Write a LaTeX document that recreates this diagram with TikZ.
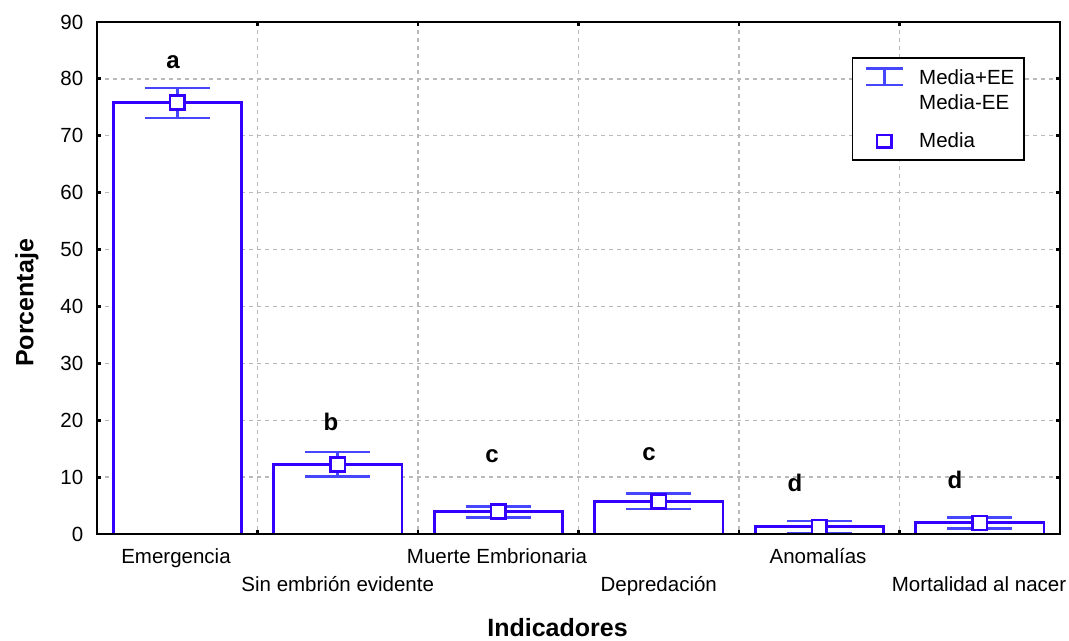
\documentclass[tikz,border=0pt]{standalone}
\usepackage{fontspec}
\setmainfont{Liberation Sans}
\definecolor{barblue}{RGB}{51,0,255}
\definecolor{whiskblue}{RGB}{70,70,255}
\definecolor{gridgray}{RGB}{185,185,185}
\begin{document}
\begin{tikzpicture}[x=1bp,y=-1bp,
  gridline/.style={draw=gridgray, line width=1.4bp, dash pattern=on 4bp off 4bp},
  barbox/.style={draw=barblue, fill=white, line width=2.9bp},
  whisk/.style={draw=whiskblue, line width=2.6bp},
  meanbox/.style={draw=barblue, fill=white, line width=2.7bp},
  axisline/.style={draw=black, line width=2.8bp},
  ticklab/.style={inner sep=0pt, font=\fontsize{20.5bp}{24bp}\selectfont},
  catlab/.style={inner sep=0pt, anchor=base, font=\fontsize{20.5bp}{24bp}\selectfont},
  sigletter/.style={inner sep=0pt, anchor=base, font=\fontsize{24bp}{28bp}\selectfont\bfseries},
  axtitle/.style={inner sep=0pt, anchor=base, font=\fontsize{25bp}{29bp}\selectfont\bfseries},
  legtext/.style={inner sep=0pt, anchor=west, font=\fontsize{20.5bp}{24bp}\selectfont}]
\useasboundingbox (0,0) rectangle (1069,641);
\fill[white] (0,0) rectangle (1069,641);
% grid
\foreach \v in {10,20,...,80}
  \draw[gridline] (97,{534-5.6889*\v}) -- (1060,{534-5.6889*\v});
\foreach \i in {1,...,5}
  \draw[gridline] ({97+160.5*\i},22) -- ({97+160.5*\i},534);
% bars and error bars
\foreach \i/\m/\u/\l in {0/75.8/78.4/73.1, 1/12.2/14.4/10.1, 2/4.0/4.85/2.95, 3/5.7/7.1/4.4, 4/1.25/2.3/0.2, 5/1.95/2.9/1.0}{
  \pgfmathsetmacro\cx{97+160.5*(\i+0.5)}
  \draw[barbox] ({\cx-64.2},534) -- ({\cx-64.2},{534-5.6889*\m}) -- ({\cx+64.2},{534-5.6889*\m}) -- ({\cx+64.2},534);
  \draw[whisk] ({\cx-32.5},{534-5.6889*\u}) -- ({\cx+32.5},{534-5.6889*\u});
  \draw[whisk] ({\cx-32.5},{534-5.6889*\l}) -- ({\cx+32.5},{534-5.6889*\l});
  \draw[whisk] (\cx,{534-5.6889*\u}) -- (\cx,{534-5.6889*\l});
  \draw[meanbox] ({\cx-7.2},{534-5.6889*\m-7}) rectangle ({\cx+7.2},{534-5.6889*\m+7});
}
% axes frame
\draw[axisline] (97,22) rectangle (1060,534);
\foreach \v in {10,20,...,80}{
  \draw[axisline] (97,{534-5.6889*\v}) -- (101,{534-5.6889*\v});
  \draw[axisline] (1060,{534-5.6889*\v}) -- (1056,{534-5.6889*\v});
}
\foreach \i in {1,...,5}{
  \draw[axisline] ({97+160.5*\i},534) -- ({97+160.5*\i},530);
  \draw[axisline] ({97+160.5*\i},22) -- ({97+160.5*\i},26);
}
% y tick labels
\foreach \v in {0,10,...,90}
  \node[ticklab, anchor=east] (t\v) at (83.5,{534-5.6889*\v}) {\v};
% significance letters
\node[sigletter] (la) at (173,69) {a};
\node[sigletter] (lb) at (331,430) {b};
\node[sigletter] (lc1) at (492,462.5) {c};
\node[sigletter] (lc2) at (649,460) {c};
\node[sigletter] (ld1) at (795,491) {d};
\node[sigletter] (ld2) at (955,488.5) {d};
% category labels
\node[catlab] (c1) at (176,563.5) {Emergencia};
\node[catlab] (c2) at (337.75,591.5) {Sin embrión evidente};
\node[catlab] (c3) at (497,563.5) {Muerte Embrionaria};
\node[catlab] (c4) at (658.75,591.5) {Depredación};
\node[catlab] (c5) at (818,563.5) {Anomalías};
\node[catlab] (c6) at (979,591.5) {Mortalidad al nacer};
% axis titles
\node[axtitle] (xt) at (557.5,636.5) {Indicadores};
\node[axtitle, rotate=90] (yt) at (33.3,303) {Porcentaje};
% legend
\draw[draw=black, fill=white, line width=1.6bp] (852.3,58.3) rectangle (1024,160);
\draw[whisk] (866,68.3) -- (903,68.3);
\draw[whisk] (866,85) -- (903,85);
\draw[whisk] (884.5,68.3) -- (884.5,85);
\draw[meanbox, line width=2.4bp] (877,135) rectangle (891.5,147.5);
\node[legtext] (l1) at (919,76.7) {Media+EE};
\node[legtext] (l2) at (919,101.7) {Media-EE};
\node[legtext] (l3) at (919,140.5) {Media};
\end{tikzpicture}
\end{document}
